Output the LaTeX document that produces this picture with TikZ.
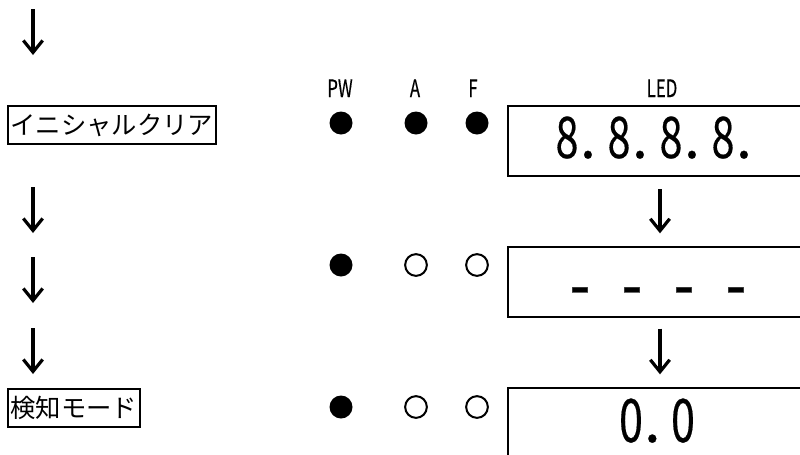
\documentclass[tikz,border=0pt]{standalone}
\usepackage{fontspec}
\setmainfont{Noto Sans CJK JP}
\newfontfamily\ledfont[FakeBold=0.4]{Noto Sans CJK JP}
\usetikzlibrary{arrows.meta}
\newcommand{\dg}[1]{\makebox[19.5pt][c]{\scalebox{0.72}[1]{#1}}}
\newcommand{\ledhy}{\makebox[19.5pt][c]{\scalebox{1.05}[1.25]{-}}}
\newcommand{\ledsp}{\makebox[19.5pt][c]{ }}
\newcommand{\dt}{\makebox[19.5pt][l]{.}}
\newcommand{\cond}[1]{\scalebox{0.7}[1]{#1}}
\begin{document}
\begin{tikzpicture}[x=0.75pt,y=-0.75pt,
  flowarrow/.style={line width=2.4pt,-{Straight Barb[length=9pt,width=14.5pt,line width=2.4pt]}},
  stepbox/.style={draw,line width=1.5pt,font=\fontsize{19pt}{22pt}\selectfont,inner xsep=2pt,inner ysep=0pt,minimum height=28.5pt,anchor=west},
  lbl/.style={font=\ledfont\fontsize{18pt}{20pt}\selectfont,inner sep=0pt,anchor=base},
  lampon/.style={circle,fill,minimum size=17.25pt,inner sep=0pt},
  lampoff/.style={circle,draw,line width=1.5pt,minimum size=16.3pt,inner sep=0pt},
  ledbox/.style={draw,line width=1.5pt,minimum width=222pt,minimum height=52.5pt,anchor=north west,inner sep=0pt},
  ledtext/.style={inner sep=0pt,anchor=base,font=\ledfont\fontsize{43pt}{45pt}\selectfont}]
\clip (0,0) rectangle (800,454);
\fill[white] (0,0) rectangle (800,454);
% left column
\node[stepbox] (init) at (7,125) {イニシャルクリア};
\node[stepbox] (detect) at (7,408) {検知モード};
\coordinate (t0) at (33,9);
\coordinate (t1) at (33,55);
\coordinate (l1a) at (33,187);
\coordinate (l1b) at (33,233);
\coordinate (l2a) at (33,257);
\coordinate (l2b) at (33,303);
\coordinate (l3a) at (33,328);
\coordinate (l3b) at (33,374);
\draw[flowarrow] (t0) -- (t1);
\draw[flowarrow] (l1a) -- (l1b);
\draw[flowarrow] (l2a) -- (l2b);
\draw[flowarrow] (l3a) -- (l3b);
% labels
\node[lbl] (lpw) at (340,97) {\cond{PW}};
\node[lbl] (la) at (415,97) {\cond{A}};
\node[lbl] (lf) at (473,97) {\cond{F}};
\node[lbl] (lled) at (662,97) {\cond{LED}};
% lamps
\node[lampon] (p1) at (341,123) {};
\node[lampon] (a1) at (416,123) {};
\node[lampon] (f1) at (477,123) {};
\node[lampon] (p2) at (341,265) {};
\node[lampoff] (a2) at (416,265) {};
\node[lampoff] (f2) at (477,265) {};
\node[lampon] (p3) at (341,407) {};
\node[lampoff] (a3) at (416,407) {};
\node[lampoff] (f3) at (477,407) {};
% LED boxes
\node[ledbox] (led1) at (507,105) {};
\node[ledbox] (led2) at (507,246) {};
\node[ledbox] (led3) at (507,387) {};
\node[ledtext] (txt1) at (658,158) {\dg{8}\dt\dg{8}\dt\dg{8}\dt\dg{8}\dt};
\node[ledtext] (txt2) at (658,310) {\ledhy\ledsp\ledhy\ledsp\ledhy\ledsp\ledhy};
\node[ledtext,font=\ledfont\fontsize{45pt}{47pt}\selectfont] (txt3) at (657,442) {\dg{0}\dt\dg{0}};
\draw[flowarrow] ([xshift=3pt,yshift=-9pt]led1.south) -- ([xshift=3pt,yshift=9.5pt]led2.north);
\draw[flowarrow] ([xshift=3pt,yshift=-8pt]led2.south) -- ([xshift=3pt,yshift=9.5pt]led3.north);
\end{tikzpicture}
\end{document}
